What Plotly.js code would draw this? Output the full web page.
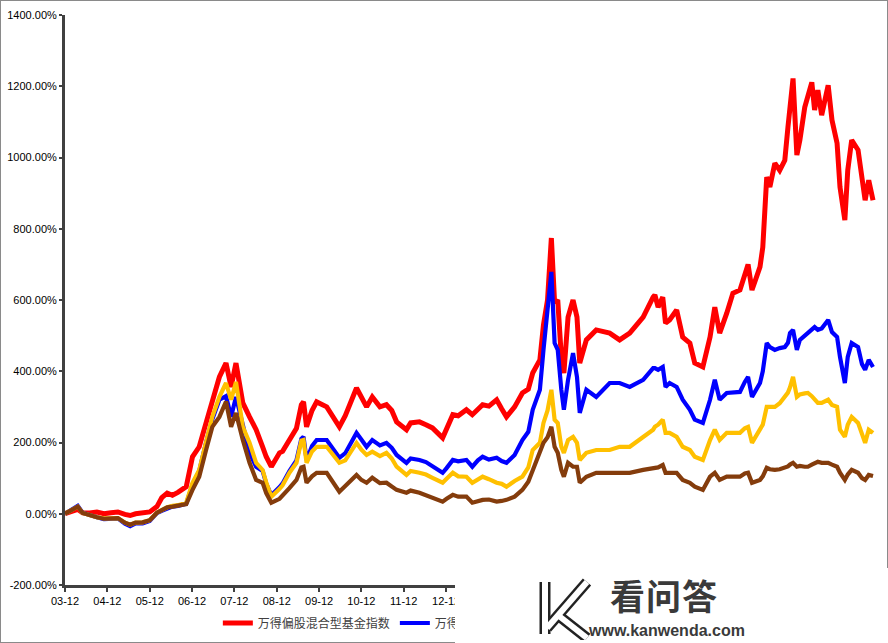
<!DOCTYPE html>
<html>
<head>
<meta charset="utf-8">
<script src="https://cdn.plot.ly/plotly-3.0.1.min.js"></script>
<style>
  html, body { margin: 0; padding: 0; background: #fff; }
  #wrap { position: relative; width: 888px; height: 643px; overflow: hidden; }
  #chart { position: absolute; left: 0; top: 0; width: 888px; height: 643px; }
  #frame { position: absolute; left: 0; top: 0; width: 888px; height: 643px; box-sizing: border-box; border: 1px solid #8a8a8a; pointer-events: none; }
  #wm { position: absolute; left: 455px; top: 568px; width: 433px; height: 75px; background: #fff; }
  #wm svg { position: absolute; left: 80px; top: 8px; }
  #wm .cn { position: absolute; left: 155px; top: 9px; font-family: "Noto Sans CJK SC", sans-serif; font-weight: 700; font-size: 35px; line-height: 36px; color: #3a3a3a; letter-spacing: 1px; }
  #wm .url { position: absolute; left: 134px; top: 55px; font-family: "Liberation Sans", Arial, sans-serif; font-weight: 700; font-size: 16px; line-height: 16px; color: #3a3a3a; }
</style>
</head>
<body>
<div id="wrap">
  <div id="chart"></div>
  <div id="frame"></div>
  <div id="wm">
    <svg width="60" height="64" viewBox="0 0 60 64">
      <g fill="none" stroke-linecap="butt" stroke-linejoin="miter">
        <path d="M10 6 L10 58" stroke="#222" stroke-width="11"/>
        <path d="M52 6 L12 52" stroke="#222" stroke-width="11"/>
        <path d="M24 40 L52 62" stroke="#222" stroke-width="11"/>
        <path d="M10 6 L10 58" stroke="#fff" stroke-width="6"/>
        <path d="M52 6 L12 52" stroke="#fff" stroke-width="6"/>
        <path d="M24 40 L52 62" stroke="#fff" stroke-width="6"/>
      </g>
    </svg>
    <div class="cn">看问答</div>
    <div class="url">www.kanwenda.com</div>
  </div>
</div>
<script>
// ---- data (values in %) ----
const dates = [
"2003-12-01","2004-01-15","2004-03-20","2004-05-01","2004-07-01","2004-09-01","2004-11-01","2005-01-01","2005-03-01","2005-05-01",
"2005-06-15","2005-08-01","2005-10-01","2005-12-01","2006-02-01","2006-03-15","2006-05-01","2006-06-15","2006-08-01","2006-10-12",
"2006-12-05","2007-02-01","2007-04-01","2007-05-25","2007-07-25","2007-09-20","2007-11-03","2007-12-15","2008-02-12","2008-04-10",
"2008-06-06","2008-08-01","2008-09-01","2008-10-15","2008-12-25","2009-01-20","2009-03-20","2009-05-20","2009-07-01","2009-07-20",
"2009-08-15","2009-10-01","2009-11-10","2010-02-05","2010-05-25","2010-07-15","2010-10-20","2010-12-01","2011-01-15","2011-03-05",
"2011-05-10","2011-07-05","2011-08-20","2011-10-01","2011-12-25","2012-01-30","2012-04-15","2012-06-10","2012-08-05","2012-11-01",
"2012-12-05","2013-01-28","2013-03-15","2013-05-25","2013-07-15","2013-09-01","2013-10-12","2013-12-05","2014-02-10","2014-03-25",
"2014-05-06","2014-07-15","2014-09-20","2014-11-10","2014-12-18","2015-02-18","2015-03-21","2015-04-25","2015-05-28","2015-06-25",
"2015-07-22","2015-08-22","2015-09-13","2015-10-19","2015-12-01","2016-01-04","2016-01-28","2016-03-25","2016-06-18","2016-10-12",
"2017-01-06","2017-04-03","2017-07-28","2017-10-22","2017-11-06","2017-12-04","2018-01-13","2018-02-06","2018-03-13","2018-05-13",
"2018-07-04","2018-09-04","2018-10-16","2018-12-25","2019-02-25","2019-04-07","2019-05-19","2019-07-19","2019-09-10","2019-11-10",
"2019-12-22","2020-01-19","2020-02-22","2020-05-01","2020-05-25","2020-06-28","2020-07-25","2020-09-06","2020-10-18","2020-12-01",
"2020-12-28","2021-01-15","2021-02-10","2021-03-15","2021-04-10","2021-05-22","2021-06-18","2021-07-22","2021-08-15","2021-09-12",
"2021-10-15","2021-12-10","2022-01-12","2022-02-25","2022-03-22","2022-05-03","2022-05-28","2022-07-01","2022-08-25","2022-09-28",
"2022-10-25","2022-11-25","2023-01-01"
];
// 万得偏股混合型基金指数 (red)
const fundIndex = [
0,5,12,3,2,5,0,3,5,-2,
-5,0,3,5,20,45,58,52,60,76,
160,188,255,320,384,423,356,423,311,272,
236,188,160,132,171,175,207,240,306,314,
244,290,314,300,244,275,353,330,300,328,
300,306,290,258,236,255,258,250,241,213,
238,278,275,292,278,295,306,302,320,295,
272,300,339,350,395,432,530,600,774,592,
600,440,395,552,600,552,423,488,516,507,
488,507,552,608,614,580,608,535,544,572,
496,479,423,412,496,580,507,563,619,628,
675,700,628,693,748,945,917,984,964,992,
1085,1152,1222,1007,1049,1141,1170,1211,1133,1189,
1119,1203,1105,1040,917,824,964,1049,1021,936,
880,936,880
];
// 万得全A (blue)
const windAll = [
0,8,22,3,-5,-10,-15,-14,-13,-28,
-35,-27,-27,-20,2,8,15,20,22,28,
82,120,200,265,320,330,272,328,250,171,
132,120,85,52,75,85,120,150,210,216,
151,190,207,207,157,170,227,210,188,207,
192,199,185,165,143,155,151,145,132,115,
128,151,147,151,132,150,160,152,157,148,
143,165,207,230,292,348,460,560,679,479,
460,348,292,376,451,384,283,348,328,367,
367,356,376,409,409,404,412,356,367,356,
320,292,264,255,320,376,320,339,340,342,
370,384,328,367,400,479,468,460,465,468,
480,507,516,460,488,500,507,516,524,516,
520,544,510,496,440,367,440,479,468,420,
404,432,412
];
// 沪深300 (yellow)
const csi300 = [
0,8,20,2,-5,-10,-13,-13,-12,-25,
-31,-25,-24,-18,3,10,18,22,24,31,
87,123,207,272,328,367,320,370,244,199,
143,123,88,48,70,80,115,143,205,207,
143,175,188,188,143,150,199,180,165,174,
162,171,155,132,109,120,115,110,101,87,
98,115,105,104,87,97,104,97,87,84,
76,92,104,130,179,199,255,290,348,264,
255,188,171,207,216,199,151,171,179,179,
188,188,216,236,244,250,264,227,227,216,
188,179,160,151,207,236,207,227,227,227,
240,244,199,236,250,300,300,300,310,328,
340,355,384,328,335,338,339,330,320,311,
311,320,305,300,236,216,250,272,255,225,
199,236,227
];
// 上证指数 (brown)
const sse = [
0,8,20,2,-5,-10,-14,-13,-12,-25,
-31,-25,-24,-18,3,10,18,20,22,27,
67,104,179,244,272,315,244,283,207,143,
95,87,58,31,42,50,72,95,130,132,
87,105,115,115,62,78,109,95,87,101,
86,87,78,67,59,65,59,52,45,34,
42,53,48,48,31,36,39,40,34,36,
39,48,67,90,123,171,199,215,244,188,
171,123,104,143,132,132,87,104,115,115,
115,115,123,129,129,130,137,115,115,115,
95,87,76,67,104,115,95,104,104,104,
113,115,87,95,105,129,125,123,125,129,
133,138,143,132,134,132,132,138,143,146,
143,143,138,132,115,95,110,123,115,100,
95,109,106
];
const seriesNames = ["万得偏股混合型基金指数", "万得全A", "沪深300", "上证指数"];
const seriesColors = ["#FF0000", "#0000FF", "#FFC000", "#843C0C"];
const seriesData = [fundIndex, windAll, csi300, sse];
const yTicks = [-200, 0, 200, 400, 600, 800, 1000, 1200, 1400];
const yTickLabels = ["-200.00%", "0.00%", "200.00%", "400.00%", "600.00%", "800.00%", "1000.00%", "1200.00%", "1400.00%"];
// x tick labels visible in the reference (later ones are hidden behind the watermark)
const xTicks = ["2003-12-01","2004-12-01","2005-12-01","2006-12-01","2007-12-01","2008-12-01","2009-12-01","2010-12-01","2011-12-01","2012-12-01"];
const xTickLabels = ["03-12","04-12","05-12","06-12","07-12","08-12","09-12","10-12","11-12","12-12"];

const traces = seriesData.map((vals, i) => ({
  type: "scatter",
  mode: "lines",
  x: dates,
  y: vals,
  name: seriesNames[i],
  line: { color: seriesColors[i], width: i === 0 ? 5 : 4.2 },
  showlegend: i < 2,
  hoverinfo: "skip"
}));

const axisColor = "#404040";
const layout = {
  width: 888,
  height: 643,
  margin: { l: 65, r: 10, t: 15, b: 58, autoexpand: false },
  paper_bgcolor: "#ffffff",
  plot_bgcolor: "#ffffff",
  font: { family: "Liberation Sans, Arial, sans-serif", size: 11, color: "#000" },
  xaxis: {
    type: "date",
    range: ["2003-12-01", "2023-02-13"],
    tickmode: "array",
    tickvals: xTicks,
    ticktext: xTickLabels,
    ticks: "outside",
    ticklen: 4,
    tickwidth: 2,
    tickcolor: axisColor,
    showline: true,
    linecolor: axisColor,
    linewidth: 3,
    showgrid: false,
    zeroline: false,
    automargin: false,
    tickfont: { size: 11, color: "#000" }
  },
  yaxis: {
    range: [-200, 1400],
    tickmode: "array",
    tickvals: yTicks,
    ticktext: yTickLabels,
    ticks: "outside",
    ticklen: 3,
    tickwidth: 2,
    tickcolor: axisColor,
    showline: true,
    linecolor: axisColor,
    linewidth: 3,
    showgrid: false,
    zeroline: false,
    automargin: false,
    tickfont: { size: 11, color: "#000" }
  },
  showlegend: true,
  legend: {
    orientation: "h",
    x: 0.188,
    xanchor: "left",
    y: -0.0667,
    yanchor: "middle",
    font: { family: "Noto Sans CJK SC, sans-serif", size: 12, color: "#404040" },
    bgcolor: "rgba(0,0,0,0)",
    itemwidth: 30
  }
};

Plotly.newPlot("chart", traces, layout, { displayModeBar: false, staticPlot: true });
</script>
</body>
</html>
